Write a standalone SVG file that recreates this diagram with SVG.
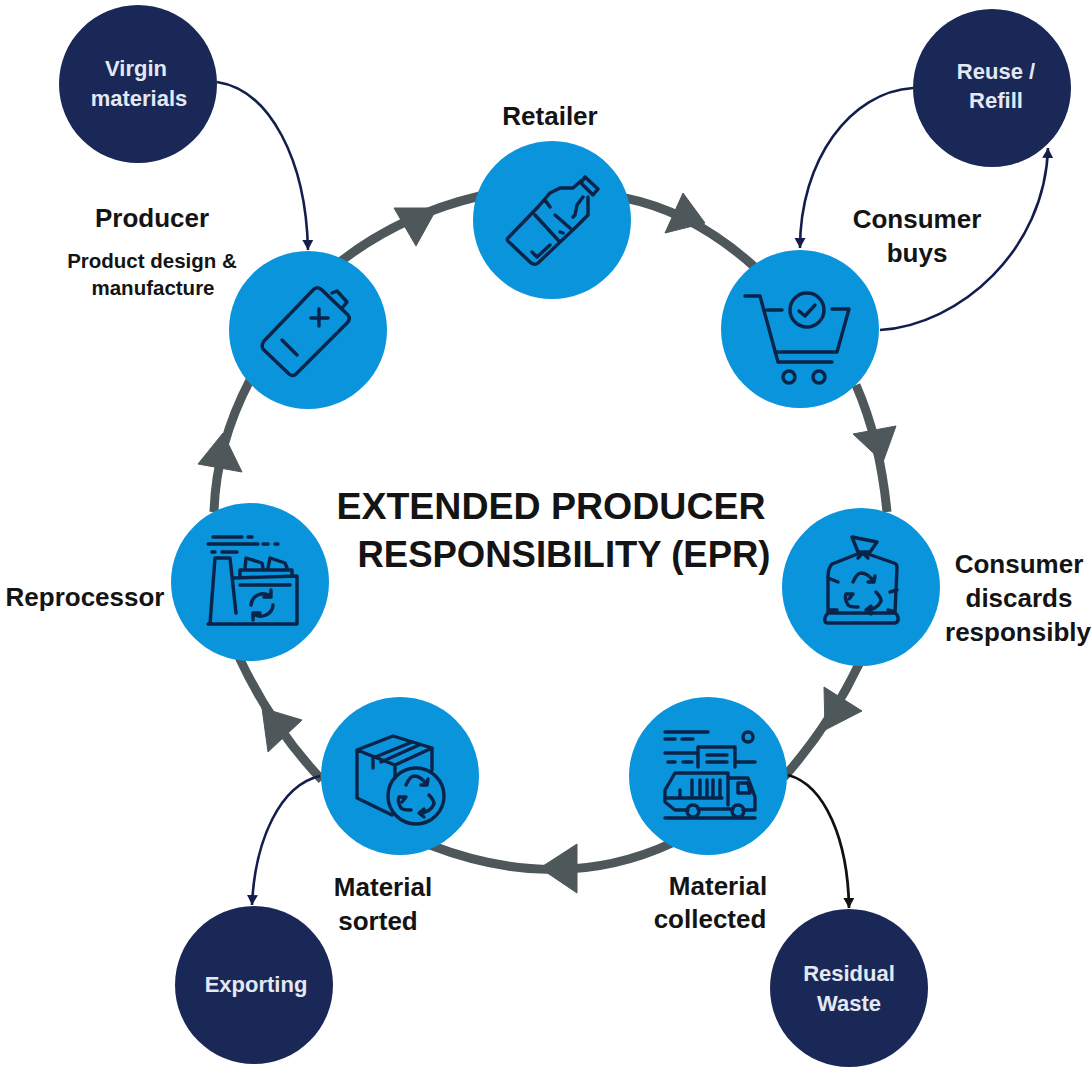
<svg xmlns="http://www.w3.org/2000/svg" width="1091" height="1067" viewBox="0 0 1091 1067">
<style>
text{font-family:"Liberation Sans",Arial,sans-serif;font-weight:700;text-anchor:middle;fill:#141414}
.lbl{font-size:26px}
.sub{font-size:20.5px}
.w{font-size:22px;fill:#e4e8f2}
.ttl{font-size:37.5px;fill:#141414}
.ttl2{font-size:36.5px;fill:#141414}
.blue{fill:#0a94dc}
.navy{fill:#1a2857}
.ring{fill:none;stroke:#4e5759;stroke-width:9}
.tri{fill:#4e5759;stroke:#4e5759;stroke-width:1;stroke-linejoin:round}
.thin{fill:none;stroke:#141e4d;stroke-width:2.6;marker-end:url(#ah)}
.thinb{fill:none;stroke:#111;stroke-width:2.8;marker-end:url(#ahb)}
.ic{fill:none;stroke:#0a2348;stroke-width:3.4;stroke-linejoin:round;stroke-linecap:round}
</style>
<defs>
<marker id="ah" markerUnits="userSpaceOnUse" markerWidth="12" markerHeight="12" refX="10" refY="5.5" orient="auto"><path d="M0,0L10,5.5L0,11z" fill="#141e4d"/></marker>
<marker id="ahb" markerUnits="userSpaceOnUse" markerWidth="12" markerHeight="12" refX="10" refY="5.5" orient="auto"><path d="M0,0L10,5.5L0,11z" fill="#111"/></marker>
<g id="rec" class="ic"><path d="M-10,-10Q-6,-19 -2,-19Q5,-19 11,-10M11,-10H5M11,-10L12,-16M-10,2H-17Q-19,6 -15,13Q-13,15 -5,15M-10,2L-14,7M3,18Q14,18 18,9Q18,5 13,0M3,18L8,14M3,18L8,22"/></g>
</defs>
<g id="connectors">
<path class="ring" d="M340,262Q400,215 480,196"/>
<path class="ring" d="M625,198Q695,212 758,270"/>
<path class="ring" d="M856,385Q880,440 887,512"/>
<path class="ring" d="M860,662Q830,725 784,777"/>
<path class="ring" d="M672,843Q560,895 430,845"/>
<path class="ring" d="M322,780Q270,725 238,655"/>
<path class="ring" d="M214,512Q216,445 250,380"/>
<path class="tri" d="M394,208L437,208L416,246z"/>
<path class="tri" d="M683,193L705,223L665,233z"/>
<path class="tri" d="M853,434L896,426L883,462z"/>
<path class="tri" d="M824,687L862,711L825,730z"/>
<path class="tri" d="M577,844L577,893L540,868z"/>
<path class="tri" d="M302,720L268,752L262,708z"/>
<path class="tri" d="M198,464L242,472L223,433z"/>
<path class="thin" d="M217,82C270,90 306,160 308,250"/>
<path class="thin" d="M913,88C850,92 800,160 800,248"/>
<path class="thin" d="M880,330C960,325 1045,250 1048,148"/>
<path class="thin" d="M320,776C280,785 255,840 252,905"/>
<path class="thinb" d="M788,775C825,785 848,840 849,908"/>
</g>
<g id="title"><text class="ttl" x="551" y="519">EXTENDED PRODUCER</text><text class="ttl2" x="564" y="567">RESPONSIBILITY (EPR)</text></g>
<g id="virgin"><circle class="navy" cx="138" cy="84" r="79"/><text class="w" x="136" y="76">Virgin</text><text class="w" x="139" y="106">materials</text></g>
<g id="reuse"><circle class="navy" cx="992" cy="88" r="79"/><text class="w" x="996" y="79">Reuse /</text><text class="w" x="996" y="108">Refill</text></g>
<g id="exporting"><circle class="navy" cx="254" cy="985" r="79"/><text class="w" x="256" y="992">Exporting</text></g>
<g id="residual"><circle class="navy" cx="849" cy="988" r="79"/><text class="w" x="849" y="981">Residual</text><text class="w" x="849" y="1011">Waste</text></g>
<g id="retailer"><circle class="blue" cx="552" cy="220" r="79"/><text class="lbl" x="550" y="125">Retailer</text>
<g class="ic"><path d="M508,238L538,207L550,193L560,188H573L582,180M585,177L598,189L593,195L581,183L585,177M588,197V215L578,225L538,263Q534,266 530,262L510,243Q506,240 508,238M535,215L558,240M545,200L550,207M555,215L570,228M560,232L563,233M532,252L537,257L550,245M583,197L577,205L575,215L573,217"/></g></g>
<g id="cart"><circle class="blue" cx="800" cy="329" r="79"/><text class="lbl" x="917" y="228">Consumer</text><text class="lbl" x="917" y="262">buys</text>
<g class="ic"><path d="M745,296H760L778,362H832M767,310H782M832,309H849L837,352H775"/><circle cx="789" cy="377" r="6"/><circle cx="819" cy="377" r="6"/><circle cx="807" cy="310" r="17"/><path d="M799,311L805,316L815,305"/></g></g>
<g id="bag"><circle class="blue" cx="861" cy="587" r="79"/><text class="lbl" x="1019" y="573">Consumer</text><text class="lbl" x="1019" y="607">discards</text><text class="lbl" x="1018" y="641">responsibly</text>
<g class="ic"><path d="M852,537L877,542L870,552H858zM860,553L832,564Q828,568 828,577V613Q824,617 825,621Q825,623 828,623H895Q899,622 898,617Q897,614 895,613L897,567Q897,564 894,563L865,553M828,613H895M828,578L838,582M828,610L837,610M897,590L890,592M895,612L888,610M863,553L858,558M863,553L868,558"/></g><use href="#rec" transform="translate(863,592)"/></g>
<g id="truck"><circle class="blue" cx="708" cy="776" r="79"/><text class="lbl" x="718" y="895">Material</text><text class="lbl" x="710" y="928">collected</text>
<g class="ic"><path d="M665,732H708M665,739H675M682,739H693M665,753H698M668,762H675M683,762H692M698,767V747H735V767M707,755H727M707,762H727M735,762H755M688,810H675L665,802V790L675,773H728V805M730,778H748L755,797V810H743M698,809H733M738,783H748L750,793H738zM665,818H755M692,780V797M700,780V797M707,780V797M713,780V797M720,780V797M665,798H722M680,790V797"/><circle cx="748" cy="737" r="5"/><circle cx="693" cy="811" r="6"/><circle cx="738" cy="811" r="6"/></g></g>
<g id="sorted"><circle class="blue" cx="400" cy="776" r="79"/><text class="lbl" x="383" y="896">Material</text><text class="lbl" x="378" y="930">sorted</text>
<g class="ic"><path d="M357,750L393,736L432,748L395,765zM357,750V798L392,815M395,765V777M432,748V770M373,758L412,742M381,762L419,745M373,758V768"/><circle cx="416" cy="796" r="28"/></g><use href="#rec" transform="translate(416,795)"/></g>
<g id="reprocessor"><circle class="blue" cx="250" cy="582" r="79"/><text class="lbl" x="85" y="606">Reprocessor</text>
<g class="ic"><path d="M208,624H297V576L234,578M210,624L215,558H230L236,613M240,576V570H292V576M245,568L246,558L262,563L263,568M268,568L270,558L285,563L287,568M240,585H290"/><path d="M213,537H242M248,537H252M208,544H258M263,544H268M275,544H278M212,552H215M222,552H237"/><path d="M251,605A12,12 0 0 1 271,597M271,597V590M271,597H264M273,605A12,12 0 0 1 253,613M253,613V620M253,613H260"/></g></g>
<g id="producer"><circle class="blue" cx="308" cy="330" r="79"/><text class="lbl" x="152" y="227">Producer</text><text class="sub" x="152" y="268">Product design &amp;</text><text class="sub" x="153" y="295">manufacture</text>
<g class="ic"><path d="M264,341L314,289Q318,286 322,290L348,315Q351,319 347,323L296,374Q293,377 289,374L263,349Q261,345 264,341zM332,293L337,291L347,302L343,307M311,318H328M319,309V326M282,340L297,355"/></g></g>
</svg>
